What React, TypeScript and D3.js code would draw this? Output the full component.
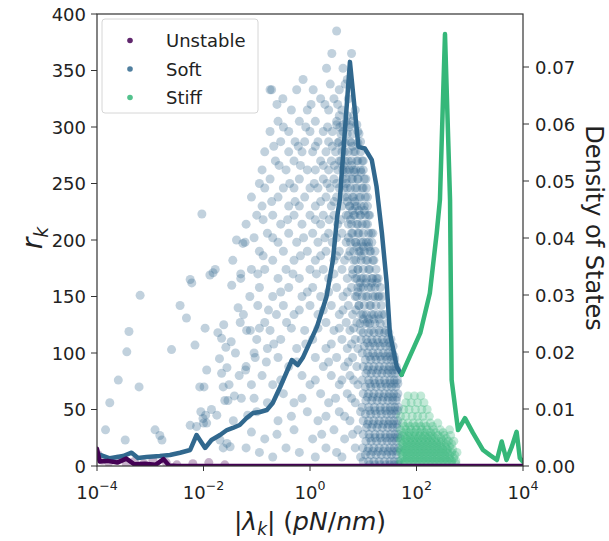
import React from 'react';
import * as d3 from 'd3';

const W = 609;
const H = 541;
const PL = 97, PR = 523, PT = 14, PB = 466;

// axis ticks
const xTickExps = [-4, -2, 0, 2, 4];
const yTicks = [0, 50, 100, 150, 200, 250, 300, 350, 400];
const y2Ticks = [0, 0.01, 0.02, 0.03, 0.04, 0.05, 0.06, 0.07];
const legendLabels = ['Unstable', 'Soft', 'Stiff'];
const colors = { Unstable: '#440154', Soft: '#31688e', Stiff: '#35b779' };

// density of states lines: [log10 |lambda|, density]
const softDensity: [number, number][] = [
  [-3.98, 0.0021], [-3.76, 0.00135], [-3.51, 0.00175], [-3.35, 0.00233], [-3.23, 0.0014],
  [-3.07, 0.00158], [-2.82, 0.00175], [-2.63, 0.00193], [-2.44, 0.00233], [-2.25, 0.00281],
  [-2.13, 0.00544], [-1.97, 0.00316], [-1.85, 0.00456], [-1.69, 0.00544], [-1.56, 0.00631],
  [-1.45, 0.00667], [-1.32, 0.00719], [-1.19, 0.00842], [-1.07, 0.0093], [-0.94, 0.00947],
  [-0.81, 0.00982], [-0.7, 0.01105], [-0.56, 0.01386], [-0.34, 0.0186], [-0.23, 0.0177],
  [-0.13, 0.0191], [0.13, 0.0244], [0.31, 0.0297], [0.43, 0.0361], [0.51, 0.0437],
  [0.56, 0.0467], [0.75, 0.0709], [0.91, 0.056], [1.03, 0.0557], [1.16, 0.0537],
  [1.25, 0.049], [1.35, 0.0409], [1.44, 0.0321], [1.5, 0.0233], [1.63, 0.0174], [1.72, 0.016],
];
const stiffDensity: [number, number][] = [
  [1.72, 0.016], [1.82, 0.0181], [2.07, 0.0233], [2.25, 0.0303], [2.38, 0.0409],
  [2.44, 0.0467], [2.535, 0.0758], [2.63, 0.0467], [2.66, 0.0151], [2.78, 0.0063],
  [2.91, 0.0084], [3.06, 0.0058], [3.25, 0.0028], [3.38, 0.0019], [3.51, 0.00105],
  [3.6, 0.0043], [3.69, 0.00105], [3.79, 0.0034], [3.88, 0.006], [3.94, 0.0014], [4.0, 0.00075],
];
const unstableDensity: [number, number][] = [
  [-4.0, 0.003], [-3.95, 0.0008], [-3.8, 0.0009], [-3.62, 0.0006], [-3.45, 0.0013],
  [-3.3, 0.0003], [-3.1, 0.0004], [-2.9, 0.0002], [-2.75, 0.0012], [-2.65, 0.0001],
  [-2.5, 0], [4.0, 0],
];

// scatter points: [log10 |lambda|, r_k]
const unstablePoints: [number, number][] = [
  [-3.98, 10], [-3.9, 5], [-3.78, 3], [-3.62, 6], [-3.45, 2], [-3.3, 4], [-3.12, 2],
  [-2.95, 5], [-2.7, 3], [-2.5, 1], [-2.2, 2], [-1.9, 3], [-1.6, 1],
];
const softSparse: [number, number][] = [
  [-3.84, 32], [-3.76, 56], [-3.6, 76], [-3.47, 23], [-3.44, 101], [-3.4, 119], [-3.21, 70],
  [-3.19, 151], [-2.91, 32], [-2.82, 27], [-2.78, 23], [-2.6, 103], [-2.44, 142], [-2.32, 131],
  [-2.25, 165], [-2.22, 162], [-2.16, 107], [-2.25, 36], [-2.13, 35], [-2.07, 70], [-2.03, 223],
  [-2.01, 42], [-1.99, 70], [-1.97, 122], [-1.94, 38], [-1.94, 85], [-1.88, 169], [-1.82, 171],
  [-1.78, 174], [-1.73, 118], [-1.69, 23], [-1.66, 82], [-1.66, 113], [-1.63, 70], [-1.63, 16],
  [-1.6, 58], [-1.56, 20], [-1.56, 87], [-1.54, 58], [-1.5, 17], [-1.47, 160], [-1.45, 182],
  [-1.44, 40], [-1.38, 200], [-1.33, 80], [-1.29, 60], [-1.26, 197], [-1.1, 30], [-1.05, 100],
  [-1.17, 45], [-1.4, 100], [-1.85, 50], [-2.05, 48], [-1.75, 45], [-1.52, 72], [-1.35, 140],
  [-1.58, 105], [-1.7, 95], [-2.0, 38], [-1.96, 45], [-1.62, 125], [-1.48, 110], [-1.3, 170],
  [-1.21, 85], [-1.12, 120], [-1.42, 62],
];
// rows of the broad soft cloud: [r_k, log10 |lambda| values]
const softCloudRows: [number, number[]][] = [
  [385, [0.5]],
  [365, [0.41, 0.78]],
  [352, [0.31, 0.62]],
  [342, [-0.13, 0.7]],
  [333, [-0.75, -0.72, -0.25, 0.06, 0.55]],
  [325, [-0.51, 0.2, 0.45, 0.72]],
  [315, [-0.35, -0.05, 0.35, 0.6, 0.85]],
  [305, [-0.6, -0.2, 0.1, 0.5, 0.68, 0.8]],
  [296, [-0.75, -0.4, 0.0, 0.25, 0.42, 0.62, 0.9]],
  [287, [-0.55, -0.28, -0.1, 0.15, 0.35, 0.55, 0.75, 0.95]],
  [278, [-0.85, -0.4, -0.15, 0.05, 0.3, 0.48, 0.65, 0.85]],
  [270, [-0.65, -0.3, 0.2, 0.4, 0.58, 0.72, 0.9, 1.0]],
  [262, [-0.9, -0.45, -0.05, 0.1, 0.35, 0.52, 0.68, 0.82, 0.95]],
  [254, [-0.75, -0.2, 0.25, 0.45, 0.62, 0.78, 0.9, 1.05]],
  [246, [-0.85, -0.5, -0.3, 0.0, 0.15, 0.38, 0.55, 0.7, 0.85, 1.0]],
  [238, [-1.1, -0.6, -0.1, 0.3, 0.5, 0.65, 0.8, 0.95, 1.08]],
  [230, [-0.9, -0.4, -0.2, 0.1, 0.4, 0.6, 0.75, 0.88, 1.02]],
  [222, [-1.0, -0.7, -0.3, 0.0, 0.25, 0.45, 0.68, 0.82, 0.95, 1.1]],
  [214, [-1.2, -0.55, -0.15, 0.2, 0.52, 0.72, 0.9, 1.05]],
  [206, [-0.8, -0.4, 0.05, 0.35, 0.6, 0.78, 0.92, 1.15]],
  [198, [-1.22, -0.6, -0.25, 0.15, 0.42, 0.68, 0.85, 1.0, 1.1]],
  [190, [-0.95, -0.5, -0.05, 0.3, 0.55, 0.75, 0.95, 1.12]],
  [182, [-0.7, -0.3, 0.1, 0.45, 0.65, 0.82, 1.05, 1.2]],
  [174, [-1.1, -0.85, -0.45, 0.0, 0.25, 0.6, 0.9, 1.1]],
  [166, [-1.3, -0.6, -0.2, 0.35, 0.7, 0.88, 1.0, 1.18, 1.25]],
  [158, [-0.95, -0.4, 0.05, 0.5, 0.78, 0.95, 1.15]],
  [150, [-1.13, -0.7, -0.15, 0.2, 0.62, 0.85, 1.05, 1.22, 1.3]],
  [142, [-0.98, -0.5, 0.0, 0.4, 0.72, 0.92, 1.12]],
  [134, [-1.25, -0.63, -0.3, 0.15, 0.55, 0.8, 1.0, 1.2, 1.35]],
  [127, [-1.31, -0.85, -0.44, 0.3, 0.68, 0.88, 1.08]],
  [120, [-1.19, -0.75, -0.1, 0.45, 0.75, 0.95, 1.15, 1.3, 1.42]],
  [112, [-1.0, -0.55, 0.05, 0.6, 0.85]],
  [104, [-0.8, -0.25, 0.3, 0.7, 0.9]],
  [96, [-1.03, -0.6, 0.1, 0.5, 0.8]],
  [88, [-1.2, -0.4, 0.25, 0.65, 0.88]],
  [80, [-0.9, -0.15, 0.4, 0.75]],
  [72, [-1.1, -0.7, 0.0, 0.55, 0.9]],
  [64, [-0.5, 0.2, 0.7]],
  [56, [-0.8, -0.3, 0.35, 0.85]],
  [48, [-1.0, -0.05, 0.55, 0.95]],
  [40, [-0.6, 0.15, 0.75]],
  [32, [-0.3, 0.45, 0.9]],
  [24, [-0.85, 0.05, 0.65]],
  [16, [-1.2, -0.45, 0.3, 0.85]],
  [8, [-0.7, 0.1, 0.6, 0.95]],
];
// second, interleaved layer of the broad cloud
const softCloudRows2: [number, number[]][] = [
  [338, [0.38, 0.66]],
  [320, [-0.62, 0.02, 0.28, 0.52]],
  [300, [-0.5, -0.08, 0.33, 0.56, 0.74]],
  [283, [-0.68, -0.22, 0.1, 0.42, 0.6, 0.8]],
  [266, [-0.58, -0.18, 0.25, 0.46, 0.62, 0.78]],
  [250, [-0.95, -0.38, 0.08, 0.32, 0.5, 0.68]],
  [234, [-0.72, -0.28, 0.2, 0.45, 0.7, 0.84]],
  [218, [-0.88, -0.42, 0.1, 0.36, 0.58, 0.76]],
  [202, [-1.05, -0.7, -0.12, 0.28, 0.5, 0.72]],
  [186, [-0.88, -0.18, 0.2, 0.5, 0.72, 0.96]],
  [170, [-0.98, -0.32, 0.12, 0.45, 0.8]],
  [154, [-0.55, -0.05, 0.35, 0.7, 0.9]],
  [138, [-0.78, -0.2, 0.25, 0.62, 0.86]],
  [122, [-0.95, -0.35, 0.15, 0.55, 0.82]],
  [108, [-0.68, -0.08, 0.4, 0.78]],
  [92, [-0.82, -0.25, 0.35, 0.72]],
  [76, [-0.55, 0.1, 0.6, 0.82]],
  [60, [-1.05, -0.15, 0.48, 0.78]],
  [44, [-0.35, 0.3, 0.65]],
  [28, [-0.62, 0.22, 0.8]],
  [12, [-0.95, -0.2, 0.5]],
];
// rows of the dense soft band
const softBandRows: [number, number[]][] = [
  [310, [0.55, 0.7, 0.82]],
  [302, [0.5, 0.62, 0.75, 0.88]],
  [294, [0.58, 0.7, 0.8, 0.92]],
  [286, [0.52, 0.66, 0.78, 0.9]],
  [278, [0.6, 0.72, 0.82, 0.95]],
  [270, [0.55, 0.66, 0.78, 0.88, 0.98]],
  [262, [0.62, 0.74, 0.86, 1.0]],
  [254, [0.68, 0.8, 0.9, 1.02]],
  [246, [0.64, 0.76, 0.88, 0.98, 1.06]],
  [238, [0.7, 0.82, 0.92, 1.04]],
  [230, [0.74, 0.85, 0.96, 1.08]],
  [222, [0.72, 0.84, 0.94, 1.04, 1.12]],
  [214, [0.78, 0.88, 0.98, 1.08]],
  [206, [0.8, 0.9, 1.0, 1.1, 1.18]],
  [198, [0.76, 0.86, 0.96, 1.06, 1.16]],
  [190, [0.82, 0.92, 1.02, 1.14, 1.22]],
  [182, [0.86, 0.96, 1.08, 1.18]],
  [174, [0.8, 0.9, 1.0, 1.12, 1.24]],
  [166, [0.85, 0.96, 1.06, 1.16, 1.28]],
  [158, [0.9, 1.0, 1.1, 1.22, 1.32]],
  [150, [0.88, 0.98, 1.08, 1.18, 1.28, 1.36]],
  [142, [0.92, 1.02, 1.14, 1.24, 1.34]],
  [134, [0.96, 1.06, 1.16, 1.28, 1.4]],
  [126, [0.94, 1.04, 1.12, 1.22, 1.32, 1.44]],
  [118, [1.0, 1.1, 1.2, 1.3, 1.4, 1.48]],
  [112, [0.96, 1.06, 1.16, 1.26, 1.36, 1.46, 1.52]],
  [106, [1.02, 1.12, 1.22, 1.32, 1.42, 1.5, 1.56]],
  [100, [0.98, 1.08, 1.18, 1.28, 1.38, 1.47, 1.55]],
  [94, [1.04, 1.14, 1.24, 1.34, 1.44, 1.52, 1.59]],
  [88, [1.0, 1.1, 1.2, 1.3, 1.4, 1.49, 1.57, 1.62]],
  [82, [1.05, 1.15, 1.25, 1.35, 1.45, 1.53, 1.6]],
  [76, [0.98, 1.1, 1.2, 1.3, 1.4, 1.5, 1.58, 1.64]],
  [70, [1.04, 1.14, 1.24, 1.34, 1.44, 1.53, 1.61]],
  [64, [1.0, 1.1, 1.2, 1.3, 1.4, 1.49, 1.57, 1.65]],
  [58, [1.05, 1.16, 1.26, 1.36, 1.46, 1.55, 1.62]],
  [52, [0.98, 1.1, 1.21, 1.32, 1.42, 1.51, 1.59, 1.66]],
  [46, [1.04, 1.14, 1.24, 1.34, 1.44, 1.53, 1.61]],
  [40, [1.0, 1.1, 1.2, 1.3, 1.4, 1.49, 1.57, 1.65]],
  [34, [1.06, 1.16, 1.26, 1.36, 1.46, 1.55, 1.63]],
  [28, [1.0, 1.11, 1.22, 1.32, 1.42, 1.51, 1.59, 1.66]],
  [22, [1.05, 1.15, 1.25, 1.35, 1.45, 1.54, 1.62]],
  [16, [0.99, 1.1, 1.2, 1.3, 1.4, 1.5, 1.58, 1.66]],
  [10, [1.04, 1.14, 1.24, 1.34, 1.44, 1.53, 1.62]],
  [4, [1.0, 1.1, 1.2, 1.3, 1.4, 1.5, 1.58, 1.66]],
];
// extra layer where the soft band is darkest
const softBandRows2: [number, number[]][] = [
  [260, [0.7, 0.84, 0.96]],
  [226, [0.8, 0.92, 1.02]],
  [194, [0.88, 1.0, 1.1]],
  [162, [0.94, 1.05, 1.16, 1.26]],
  [130, [1.0, 1.1, 1.2, 1.3]],
  [109, [1.08, 1.18, 1.28, 1.38, 1.48]],
  [97, [1.12, 1.22, 1.32, 1.42, 1.5, 1.58]],
  [85, [1.08, 1.18, 1.28, 1.38, 1.47, 1.55, 1.63]],
  [73, [1.12, 1.22, 1.32, 1.42, 1.5, 1.58, 1.65]],
  [61, [1.08, 1.18, 1.28, 1.38, 1.47, 1.55, 1.63]],
  [49, [1.12, 1.22, 1.32, 1.42, 1.5, 1.58, 1.65]],
  [37, [1.08, 1.18, 1.28, 1.38, 1.47, 1.55, 1.63]],
  [25, [1.12, 1.22, 1.32, 1.42, 1.5, 1.58, 1.65]],
  [13, [1.08, 1.18, 1.28, 1.38, 1.47, 1.55, 1.63]],
  [1, [1.12, 1.22, 1.32, 1.42, 1.5, 1.58, 1.65]],
];
// rows of the stiff cluster
const stiffRows: [number, number[]][] = [
  [62, [1.84, 1.96, 2.08]],
  [56, [1.8, 1.9, 2.02, 2.14]],
  [50, [1.76, 1.86, 1.98, 2.1, 2.2]],
  [44, [1.7, 1.8, 1.92, 2.02, 2.12, 2.24]],
  [38, [1.74, 1.84, 1.94, 2.04, 2.14, 2.26, 2.4]],
  [35, [1.78, 1.88, 1.98, 2.08, 2.18, 2.3]],
  [32, [1.7, 1.8, 1.9, 2.0, 2.1, 2.2, 2.32, 2.45, 2.62]],
  [29.5, [1.76, 1.86, 1.96, 2.06, 2.16, 2.26, 2.36, 2.5]],
  [27, [1.74, 1.82, 1.9, 1.98, 2.06, 2.14, 2.22, 2.3, 2.4, 2.52, 2.64]],
  [24.5, [1.7, 1.8, 1.88, 1.96, 2.04, 2.12, 2.2, 2.28, 2.36, 2.46, 2.56]],
  [22, [1.7, 1.78, 1.86, 1.94, 2.02, 2.1, 2.18, 2.26, 2.34, 2.42, 2.5, 2.6, 2.7]],
  [19.5, [1.74, 1.82, 1.9, 1.98, 2.06, 2.14, 2.22, 2.3, 2.38, 2.46, 2.56, 2.66]],
  [17, [1.74, 1.82, 1.9, 1.98, 2.06, 2.14, 2.22, 2.3, 2.38, 2.46, 2.54, 2.62]],
  [14.5, [1.7, 1.78, 1.86, 1.94, 2.02, 2.1, 2.18, 2.26, 2.34, 2.42, 2.5, 2.58, 2.68]],
  [12, [1.7, 1.78, 1.86, 1.94, 2.02, 2.1, 2.18, 2.26, 2.34, 2.42, 2.5, 2.58, 2.66, 2.76]],
  [9.5, [1.74, 1.82, 1.9, 1.98, 2.06, 2.14, 2.22, 2.3, 2.38, 2.46, 2.54, 2.62, 2.72]],
  [7, [1.74, 1.82, 1.9, 1.98, 2.06, 2.14, 2.22, 2.3, 2.38, 2.46, 2.54, 2.62, 2.7]],
  [4.5, [1.7, 1.78, 1.86, 1.94, 2.02, 2.1, 2.18, 2.26, 2.34, 2.42, 2.5, 2.58, 2.66, 2.74]],
  [2, [1.7, 1.78, 1.86, 1.94, 2.02, 2.1, 2.18, 2.26, 2.34, 2.42, 2.5, 2.58, 2.66, 2.74]],
];

const rowsToPoints = (rows: [number, number[]][]): [number, number][] =>
  rows.flatMap(([r, xs]) => xs.map((v) => [v, r] as [number, number]));

const FONT = 'DejaVu Sans, sans-serif';

export default function App() {
  const x = d3.scaleLog().domain([1e-4, 1e4]).range([PL, PR]);
  const y = d3.scaleLinear().domain([0, 400]).range([PB, PT]);
  const y2 = d3.scaleLinear().domain([0, 0.0793]).range([PB, PT]);

  const line = d3
    .line<[number, number]>()
    .x((d) => x(Math.pow(10, d[0])))
    .y((d) => y2(d[1]));

  const softPts = [
    ...softSparse,
    ...rowsToPoints(softCloudRows),
    ...rowsToPoints(softCloudRows2),
    ...rowsToPoints(softBandRows),
    ...rowsToPoints(softBandRows2),
  ];
  const stiffPts = rowsToPoints(stiffRows);
  const R = 4.5;
  const A = 0.3;
  const axisColor = '#333';

  const dot = (p: [number, number], i: number, c: string) => (
    <circle key={i} cx={x(Math.pow(10, p[0]))} cy={y(p[1])} r={R} fill={c} fillOpacity={A} />
  );

  return (
    <svg width={W} height={H} style={{ display: 'block', position: 'absolute', left: 0, top: 0 }} fontFamily={FONT}>
      <rect width={W} height={H} fill="#fff" />
      <defs>
        <clipPath id="plot">
          <rect x={PL} y={PT} width={PR - PL} height={PB - PT} />
        </clipPath>
      </defs>
      <g clipPath="url(#plot)">
        {softPts.map((p, i) => dot(p, i, colors.Soft))}
        {stiffPts.map((p, i) => dot(p, i, colors.Stiff))}
        {unstablePoints.map((p, i) => dot(p, i, colors.Unstable))}
      </g>
      {/* legend */}
      <g>
        <rect x={102} y={19} width={156} height={94} rx={3} fill="#fff" fillOpacity={0.8} stroke="#d6d6d6" />
        {legendLabels.map((l, i) => (
          <g key={l}>
            <circle cx={130} cy={40.5 + i * 28.5} r={2.8} fill={(colors as any)[l]} fillOpacity={0.85} />
            <text x={166} y={47 + i * 28.5} fontSize={18} fill="#222">{l}</text>
          </g>
        ))}
      </g>
      {/* density lines */}
      <g clipPath="url(#plot)" fill="none" strokeWidth={4.5} strokeLinejoin="round" strokeLinecap="round">
        <path d={line(softDensity) || ''} stroke={colors.Soft} />
        <path d={line(stiffDensity) || ''} stroke={colors.Stiff} />
        <path d={line(unstableDensity) || ''} stroke={colors.Unstable} />
      </g>
      {/* frame */}
      <rect x={PL} y={PT} width={PR - PL} height={PB - PT} fill="none" stroke={axisColor} strokeWidth={1.2} />
      {/* x ticks */}
      {xTickExps.map((e) => {
        const px = x(Math.pow(10, e));
        return (
          <g key={e}>
            <line x1={px} x2={px} y1={PB} y2={PB + 5} stroke={axisColor} />
            <text x={px} y={499} fontSize={18} textAnchor="middle" fill="#222">
              10<tspan fontSize={12.6} dy={-9}>{e < 0 ? '\u2212' + Math.abs(e) : String(e)}</tspan>
            </text>
          </g>
        );
      })}
      {/* left y ticks */}
      {yTicks.map((t) => (
        <g key={t}>
          <line x1={PL - 6} x2={PL} y1={y(t)} y2={y(t)} stroke={axisColor} />
          <text x={86} y={y(t) + 6.5} fontSize={18} textAnchor="end" fill="#222">{t}</text>
        </g>
      ))}
      {/* right y ticks */}
      {y2Ticks.map((t) => (
        <g key={t}>
          <line x1={PR} x2={PR + 6} y1={y2(t)} y2={y2(t)} stroke={axisColor} />
          <text x={535} y={y2(t) + 6.5} fontSize={18} textAnchor="start" fill="#222">{t.toFixed(2)}</text>
        </g>
      ))}
      {/* axis labels */}
      <text x={310} y={530} fontSize={25} textAnchor="middle" fill="#222">
        |<tspan fontStyle="italic">λ</tspan>
        <tspan fontStyle="italic" fontSize={17} dy={5}>k</tspan>
        <tspan dy={-5}>| (</tspan>
        <tspan fontStyle="italic">pN</tspan>/<tspan fontStyle="italic">nm</tspan>)
      </text>
      <text transform="translate(42,238) rotate(-90)" fontSize={28} textAnchor="middle" fill="#222">
        <tspan fontStyle="italic">r</tspan>
        <tspan fontStyle="italic" fontSize={19} dy={6}>k</tspan>
      </text>
      <text transform="translate(586,228) rotate(90)" fontSize={24} textAnchor="middle" fill="#222">
        Density of States
      </text>
    </svg>
  );
}
